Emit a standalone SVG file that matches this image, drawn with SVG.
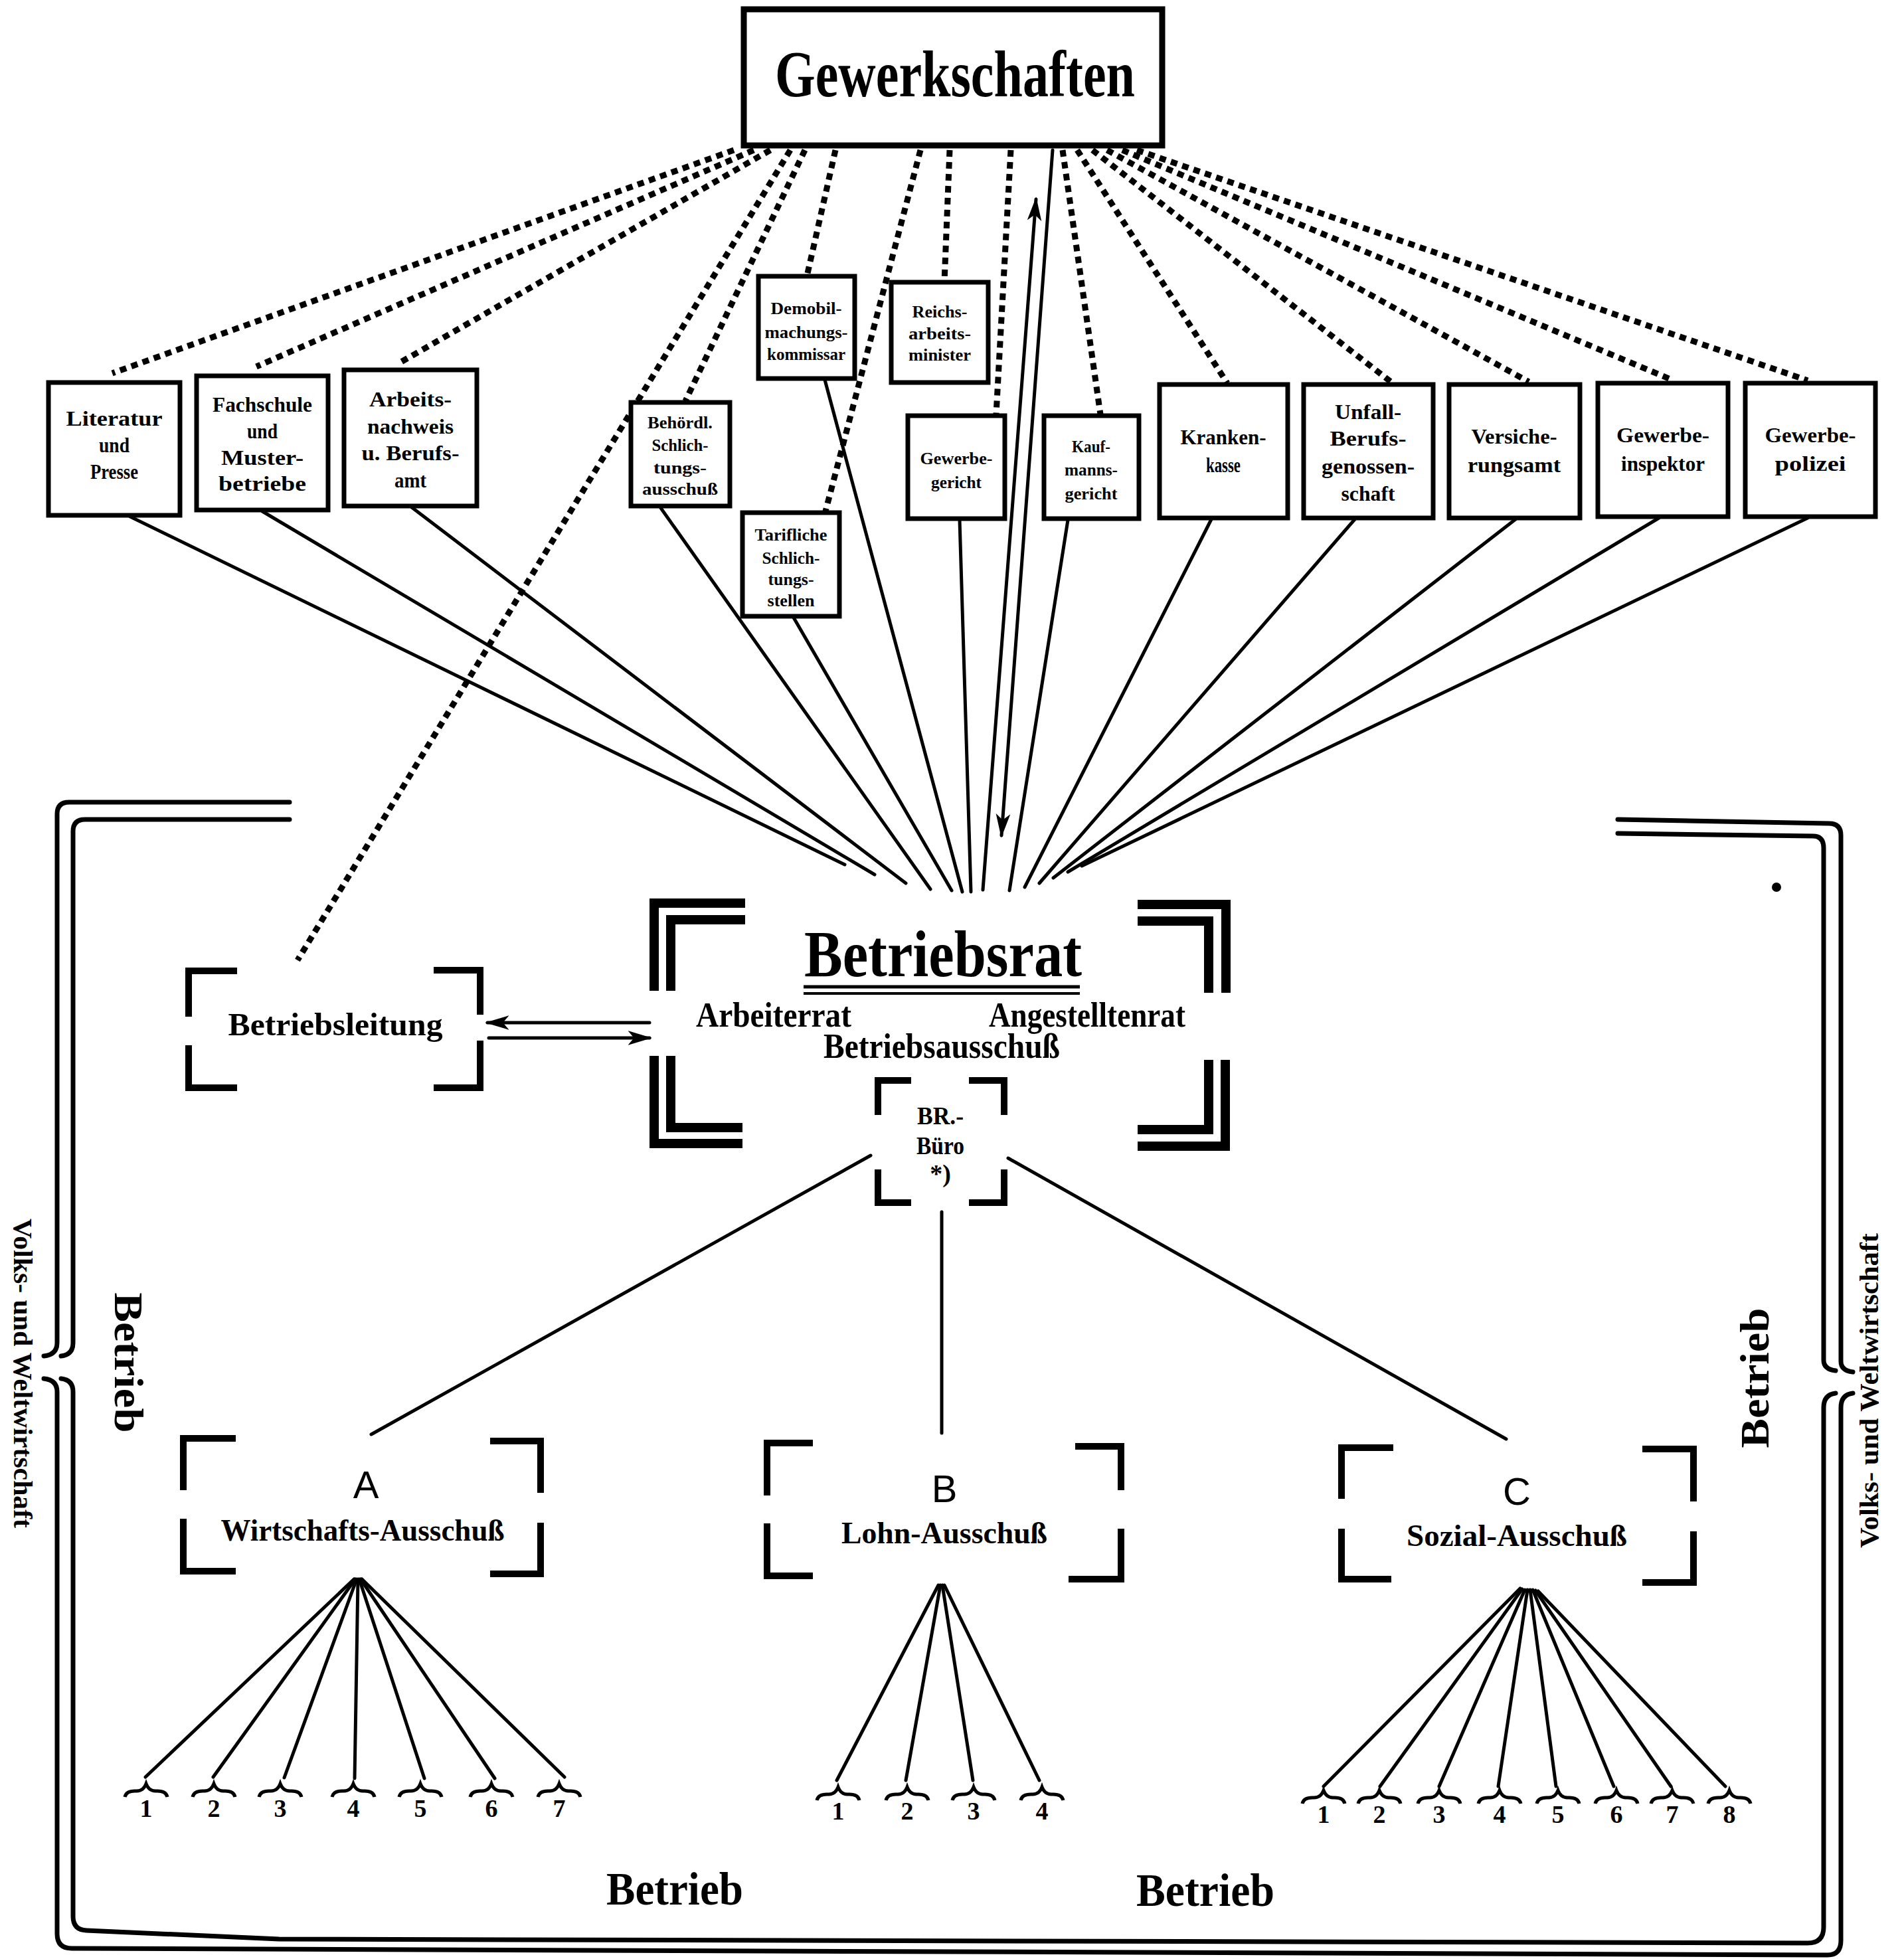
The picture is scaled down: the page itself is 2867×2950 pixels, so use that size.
<svg xmlns="http://www.w3.org/2000/svg" width="2867" height="2950" viewBox="0 0 2867 2950">
<defs>
<style>
.box{fill:#fff;stroke:#000;stroke-width:7}
.fk{font-family:"Liberation Serif","DejaVu Serif",serif;font-weight:bold;fill:#000;text-anchor:middle}
.sans{font-family:"Liberation Sans",Arial,sans-serif;fill:#000;text-anchor:middle}
.dot{stroke:#000;stroke-width:9;stroke-dasharray:10 8;fill:none}
.ln{stroke:#000;stroke-width:5;fill:none;stroke-linecap:round}
.br{stroke:#000;stroke-width:10;fill:none}
.bb{stroke:#000;stroke-width:14;fill:none}
.fr{stroke:#000;stroke-width:7;fill:none;stroke-linecap:round}
.s32{font-size:32px}
.s26{font-size:26px}
.num{font-size:38px}
</style>
<marker id="ah" viewBox="0 0 20 12" refX="18" refY="6" markerWidth="36" markerHeight="22" markerUnits="userSpaceOnUse" orient="auto"><path d="M0,0 L20,6 L0,12 L5,6 z" fill="#000"/></marker>
<path id="brace" d="M-32,12 Q-30,2 -14,3 Q-4,3 0,-8 Q4,3 14,3 Q30,2 32,12" fill="none" stroke="#000" stroke-width="5"/>
</defs>
<rect x="0" y="0" width="2867" height="2950" fill="#fff"/>

<g id="connectors">
<line class="dot" x1="1105" y1="226" x2="169" y2="562"/>
<line class="dot" x1="1135" y1="226" x2="386" y2="552"/>
<line class="dot" x1="1160" y1="226" x2="604" y2="545"/>
<line class="dot" x1="1190" y1="226" x2="448" y2="1446"/>
<line class="dot" x1="1212" y1="226" x2="1032" y2="604"/>
<line class="dot" x1="1258" y1="226" x2="1215" y2="416"/>
<line class="dot" x1="1386" y1="226" x2="1243" y2="770"/>
<line class="dot" x1="1430" y1="226" x2="1422" y2="425"/>
<line class="dot" x1="1522" y1="226" x2="1500" y2="624"/>
<line class="dot" x1="1600" y1="226" x2="1657" y2="624"/>
<line class="dot" x1="1622" y1="226" x2="1848" y2="577"/>
<line class="dot" x1="1645" y1="226" x2="2097" y2="577"/>
<line class="dot" x1="1667" y1="226" x2="2302" y2="575"/>
<line class="dot" x1="1690" y1="226" x2="2520" y2="573"/>
<line class="dot" x1="1712" y1="226" x2="2722" y2="573"/>
<line class="ln" x1="1480" y1="1340" x2="1560" y2="300" marker-end="url(#ah)"/>
<line class="ln" x1="1585" y1="226" x2="1508" y2="1258" marker-end="url(#ah)"/>
<line class="ln" x1="196" y1="778" x2="1272" y2="1302"/>
<line class="ln" x1="395" y1="770" x2="1317" y2="1317"/>
<line class="ln" x1="620" y1="764" x2="1364" y2="1330"/>
<line class="ln" x1="995" y1="765" x2="1401" y2="1339"/>
<line class="ln" x1="1195" y1="930" x2="1433" y2="1341"/>
<line class="ln" x1="1242" y1="572" x2="1449" y2="1343"/>
<line class="ln" x1="1445" y1="783" x2="1462" y2="1343"/>
<line class="ln" x1="1608" y1="783" x2="1520" y2="1341"/>
<line class="ln" x1="1824" y1="782" x2="1543" y2="1336"/>
<line class="ln" x1="2040" y1="782" x2="1565" y2="1330"/>
<line class="ln" x1="2282" y1="782" x2="1586" y2="1322"/>
<line class="ln" x1="2498" y1="780" x2="1608" y2="1313"/>
<line class="ln" x1="2722" y1="780" x2="1629" y2="1304"/>
<line class="ln" x1="978" y1="1540" x2="734" y2="1540" marker-end="url(#ah)"/>
<line class="ln" x1="736" y1="1563" x2="978" y2="1563" marker-end="url(#ah)"/>
<line class="ln" x1="1311" y1="1740" x2="559" y2="2160"/>
<line class="ln" x1="1418" y1="1825" x2="1418" y2="2158"/>
<line class="ln" x1="1518" y1="1744" x2="2268" y2="2167"/>
<line class="ln" x1="533" y1="2378" x2="219" y2="2676"/>
<line class="ln" x1="535" y1="2378" x2="321" y2="2676"/>
<line class="ln" x1="537" y1="2378" x2="428" y2="2677"/>
<line class="ln" x1="539" y1="2378" x2="534" y2="2678"/>
<line class="ln" x1="541" y1="2378" x2="639" y2="2678"/>
<line class="ln" x1="543" y1="2378" x2="745" y2="2678"/>
<line class="ln" x1="545" y1="2378" x2="850" y2="2676"/>
<line class="ln" x1="1413" y1="2387" x2="1260" y2="2681"/>
<line class="ln" x1="1416" y1="2387" x2="1364" y2="2681"/>
<line class="ln" x1="1419" y1="2387" x2="1465" y2="2681"/>
<line class="ln" x1="1422" y1="2387" x2="1565" y2="2681"/>
<line class="ln" x1="2289" y1="2392" x2="1993" y2="2690"/>
<line class="ln" x1="2292" y1="2393" x2="2078" y2="2690"/>
<line class="ln" x1="2296" y1="2394" x2="2167" y2="2690"/>
<line class="ln" x1="2300" y1="2394" x2="2256" y2="2690"/>
<line class="ln" x1="2304" y1="2394" x2="2343" y2="2690"/>
<line class="ln" x1="2308" y1="2394" x2="2430" y2="2690"/>
<line class="ln" x1="2312" y1="2395" x2="2516" y2="2690"/>
<line class="ln" x1="2316" y1="2396" x2="2598" y2="2690"/>
</g>

<g id="frame">
<path class="fr" d="M436,1208 H104 Q86,1208 86,1226 V2022 Q86,2040 66,2042"/>
<path class="fr" d="M436,1234 H128 Q110,1234 110,1252 V2022 Q110,2040 92,2042"/>
<path class="fr" d="M66,2076 Q86,2078 86,2096 V2912 Q86,2934 108,2934 L2752,2944 Q2772,2944 2772,2922 V2120 Q2772,2100 2790,2098"/>
<path class="fr" d="M92,2076 Q110,2078 110,2096 V2886 Q110,2906 130,2907 L420,2920 L2722,2926 Q2746,2926 2746,2902 V2120 Q2746,2100 2764,2098"/>
<path class="fr" d="M2436,1234 L2754,1240 Q2772,1240 2772,1258 V2050 Q2772,2064 2790,2066"/>
<path class="fr" d="M2436,1255 L2730,1259 Q2746,1259 2746,1277 V2048 Q2746,2062 2764,2064"/>
<circle cx="2675" cy="1336" r="7" fill="#000"/>
<text class="fk" font-size="40" transform="translate(35,2068) rotate(90)" y="14" textLength="466" lengthAdjust="spacingAndGlyphs">Volks- und Weltwirtschaft</text>
<text class="fk" font-size="62" transform="translate(193,2052) rotate(90)" y="20" textLength="211" lengthAdjust="spacingAndGlyphs">Betrieb</text>
<text class="fk" font-size="62" transform="translate(2643,2075) rotate(-90)" y="20" textLength="211" lengthAdjust="spacingAndGlyphs">Betrieb</text>
<text class="fk" font-size="40" transform="translate(2814,2094) rotate(-90)" y="14" textLength="474" lengthAdjust="spacingAndGlyphs">Volks- und Weltwirtschaft</text>
<text class="fk" font-size="70" x="1016" y="2868" textLength="206" lengthAdjust="spacingAndGlyphs">Betrieb</text>
<text class="fk" font-size="70" x="1815" y="2870" textLength="208" lengthAdjust="spacingAndGlyphs">Betrieb</text>
</g>

<g id="gewerkschaften">
<rect x="1120" y="14" width="630" height="205" fill="#fff" stroke="#000" stroke-width="9"/>
<text class="fk" font-size="100" x="1438" y="145" textLength="542" lengthAdjust="spacingAndGlyphs">Gewerkschaften</text>
</g>

<g id="literatur">
<rect class="box" x="73" y="576" width="198" height="200"/>
<text class="fk s32" x="172" y="641" textLength="145" lengthAdjust="spacingAndGlyphs">Literatur</text>
<text class="fk s32" x="172" y="681" textLength="46" lengthAdjust="spacingAndGlyphs">und</text>
<text class="fk s32" x="172" y="721" textLength="72" lengthAdjust="spacingAndGlyphs">Presse</text>
</g>
<g id="fachschule">
<rect class="box" x="296" y="566" width="198" height="202"/>
<text class="fk s32" x="395" y="620" textLength="150" lengthAdjust="spacingAndGlyphs">Fachschule</text>
<text class="fk s32" x="395" y="660" textLength="46" lengthAdjust="spacingAndGlyphs">und</text>
<text class="fk s32" x="395" y="700" textLength="124" lengthAdjust="spacingAndGlyphs">Muster-</text>
<text class="fk s32" x="395" y="739" textLength="132" lengthAdjust="spacingAndGlyphs">betriebe</text>
</g>
<g id="arbeitsnachweis">
<rect class="box" x="518" y="557" width="200" height="205"/>
<text class="fk s32" x="618" y="612" textLength="124" lengthAdjust="spacingAndGlyphs">Arbeits-</text>
<text class="fk s32" x="618" y="653" textLength="130" lengthAdjust="spacingAndGlyphs">nachweis</text>
<text class="fk s32" x="618" y="693" textLength="147" lengthAdjust="spacingAndGlyphs">u. Berufs-</text>
<text class="fk s32" x="618" y="734" textLength="48" lengthAdjust="spacingAndGlyphs">amt</text>
</g>
<g id="behoerdl">
<rect class="box" x="950" y="606" width="149" height="156"/>
<text class="fk s26" x="1024" y="645" textLength="98" lengthAdjust="spacingAndGlyphs">Behördl.</text>
<text class="fk s26" x="1024" y="679" textLength="85" lengthAdjust="spacingAndGlyphs">Schlich-</text>
<text class="fk s26" x="1024" y="713" textLength="80" lengthAdjust="spacingAndGlyphs">tungs-</text>
<text class="fk s26" x="1024" y="745" textLength="114" lengthAdjust="spacingAndGlyphs">ausschuß</text>
</g>
<g id="demobil">
<rect class="box" x="1142" y="416" width="145" height="154"/>
<text class="fk s26" x="1214" y="473" textLength="107" lengthAdjust="spacingAndGlyphs">Demobil-</text>
<text class="fk s26" x="1214" y="509" textLength="125" lengthAdjust="spacingAndGlyphs">machungs-</text>
<text class="fk s26" x="1214" y="542" textLength="118" lengthAdjust="spacingAndGlyphs">kommissar</text>
</g>
<g id="reichsarbeitsminister">
<rect class="box" x="1342" y="425" width="146" height="151"/>
<text class="fk s26" x="1415" y="478" textLength="83" lengthAdjust="spacingAndGlyphs">Reichs-</text>
<text class="fk s26" x="1415" y="511" textLength="94" lengthAdjust="spacingAndGlyphs">arbeits-</text>
<text class="fk s26" x="1415" y="543" textLength="94" lengthAdjust="spacingAndGlyphs">minister</text>
</g>
<g id="tarifliche">
<rect class="box" x="1118" y="772" width="146" height="156"/>
<text class="fk s26" x="1191" y="814" textLength="109" lengthAdjust="spacingAndGlyphs">Tarifliche</text>
<text class="fk s26" x="1191" y="849" textLength="87" lengthAdjust="spacingAndGlyphs">Schlich-</text>
<text class="fk s26" x="1191" y="881" textLength="69" lengthAdjust="spacingAndGlyphs">tungs-</text>
<text class="fk s26" x="1191" y="913" textLength="71" lengthAdjust="spacingAndGlyphs">stellen</text>
</g>
<g id="gewerbegericht">
<rect class="box" x="1367" y="626" width="146" height="155"/>
<text class="fk s26" x="1440" y="699" textLength="109" lengthAdjust="spacingAndGlyphs">Gewerbe-</text>
<text class="fk s26" x="1440" y="735" textLength="76" lengthAdjust="spacingAndGlyphs">gericht</text>
</g>
<g id="kaufmannsgericht">
<rect class="box" x="1572" y="626" width="143" height="155"/>
<text class="fk s26" x="1643" y="681" textLength="58" lengthAdjust="spacingAndGlyphs">Kauf-</text>
<text class="fk s26" x="1643" y="716" textLength="80" lengthAdjust="spacingAndGlyphs">manns-</text>
<text class="fk s26" x="1643" y="752" textLength="79" lengthAdjust="spacingAndGlyphs">gericht</text>
</g>
<g id="krankenkasse">
<rect class="box" x="1746" y="579" width="193" height="201"/>
<text class="fk s32" x="1842" y="669" textLength="129" lengthAdjust="spacingAndGlyphs">Kranken-</text>
<text class="fk s32" x="1842" y="711" textLength="52" lengthAdjust="spacingAndGlyphs">kasse</text>
</g>
<g id="unfall">
<rect class="box" x="1963" y="579" width="195" height="201"/>
<text class="fk s32" x="2060" y="631" textLength="100" lengthAdjust="spacingAndGlyphs">Unfall-</text>
<text class="fk s32" x="2060" y="671" textLength="115" lengthAdjust="spacingAndGlyphs">Berufs-</text>
<text class="fk s32" x="2060" y="713" textLength="140" lengthAdjust="spacingAndGlyphs">genossen-</text>
<text class="fk s32" x="2060" y="754" textLength="81" lengthAdjust="spacingAndGlyphs">schaft</text>
</g>
<g id="versicherungsamt">
<rect class="box" x="2182" y="579" width="197" height="201"/>
<text class="fk s32" x="2280" y="668" textLength="129" lengthAdjust="spacingAndGlyphs">Versiche-</text>
<text class="fk s32" x="2280" y="711" textLength="140" lengthAdjust="spacingAndGlyphs">rungsamt</text>
</g>
<g id="gewerbeinspektor">
<rect class="box" x="2406" y="577" width="196" height="201"/>
<text class="fk s32" x="2504" y="666" textLength="140" lengthAdjust="spacingAndGlyphs">Gewerbe-</text>
<text class="fk s32" x="2504" y="709" textLength="126" lengthAdjust="spacingAndGlyphs">inspektor</text>
</g>
<g id="gewerbepolizei">
<rect class="box" x="2628" y="577" width="196" height="201"/>
<text class="fk s32" x="2726" y="666" textLength="137" lengthAdjust="spacingAndGlyphs">Gewerbe-</text>
<text class="fk s32" x="2726" y="709" textLength="107" lengthAdjust="spacingAndGlyphs">polizei</text>
</g>

<g id="betriebsleitung">
<path class="br" d="M284,1531 V1462 H357 M653,1461 H723 V1528 M284,1574 V1638 H357 M653,1638 H723 V1567"/>
<text class="fk" font-size="48" x="505" y="1559" textLength="323" lengthAdjust="spacingAndGlyphs">Betriebsleitung</text>
</g>

<g id="betriebsrat">
<path class="bb" d="M985,1492 V1360 H1122 M1010,1492 V1385 H1122"/>
<path class="bb" d="M1713,1362 H1846 V1495 M1713,1387 H1820 V1495"/>
<path class="bb" d="M985,1590 V1722 H1118 M1010,1590 V1698 H1118"/>
<path class="bb" d="M1713,1726 H1845 V1596 M1713,1701 H1820 V1596"/>
<text class="fk" font-size="100" x="1420" y="1470" textLength="418" lengthAdjust="spacingAndGlyphs">Betriebsrat</text>
<line x1="1210" y1="1486" x2="1626" y2="1486" stroke="#000" stroke-width="5"/>
<line x1="1210" y1="1496" x2="1626" y2="1496" stroke="#000" stroke-width="4"/>
<text class="fk" font-size="52" x="1165" y="1546" textLength="234" lengthAdjust="spacingAndGlyphs">Arbeiterrat</text>
<text class="fk" font-size="52" x="1637" y="1546" textLength="296" lengthAdjust="spacingAndGlyphs">Angestelltenrat</text>
<text class="fk" font-size="52" x="1418" y="1593" textLength="356" lengthAdjust="spacingAndGlyphs">Betriebsausschuß</text>
</g>

<g id="br-buero">
<path class="br" stroke-width="9" d="M1322,1679 V1627 H1372 M1459,1627 H1512 V1679 M1322,1761 V1811 H1372 M1459,1811 H1512 V1761"/>
<text class="fk" font-size="38" x="1416" y="1693" textLength="70" lengthAdjust="spacingAndGlyphs">BR.-</text>
<text class="fk" font-size="38" x="1416" y="1738" textLength="72" lengthAdjust="spacingAndGlyphs">Büro</text>
<text class="fk" font-size="38" x="1416" y="1780">*)</text>
</g>

<g id="ausschuss-a">
<path class="br" d="M276,2244 V2166 H355 M738,2170 H814 V2248 M276,2287 V2366 H355 M738,2370 H814 V2293"/>
<text class="sans" font-size="58" x="551" y="2256">A</text>
<text class="fk" font-size="46" x="546" y="2320" textLength="427" lengthAdjust="spacingAndGlyphs">Wirtschafts-Ausschuß</text>
</g>
<g id="ausschuss-b">
<path class="br" d="M1155,2252 V2173 H1224 M1619,2178 H1688 V2244 M1155,2294 V2373 H1224 M1609,2378 H1688 V2302"/>
<text class="sans" font-size="58" x="1422" y="2262">B</text>
<text class="fk" font-size="46" x="1422" y="2324" textLength="310" lengthAdjust="spacingAndGlyphs">Lohn-Ausschuß</text>
</g>
<g id="ausschuss-c">
<path class="br" d="M2020,2257 V2180 H2098 M2473,2182 H2550 V2261 M2020,2302 V2378 H2095 M2473,2383 H2550 V2306"/>
<text class="sans" font-size="58" x="2284" y="2266">C</text>
<text class="fk" font-size="46" x="2284" y="2328" textLength="332" lengthAdjust="spacingAndGlyphs">Sozial-Ausschuß</text>
</g>

<g id="a-units">
<use href="#brace" x="220" y="2694"/><use href="#brace" x="322" y="2694"/><use href="#brace" x="422" y="2694"/><use href="#brace" x="532" y="2694"/><use href="#brace" x="633" y="2694"/><use href="#brace" x="740" y="2694"/><use href="#brace" x="842" y="2694"/>
<text class="fk num" x="220" y="2736">1</text><text class="fk num" x="322" y="2736">2</text><text class="fk num" x="422" y="2736">3</text><text class="fk num" x="532" y="2736">4</text><text class="fk num" x="633" y="2736">5</text><text class="fk num" x="740" y="2736">6</text><text class="fk num" x="842" y="2736">7</text>
</g>
<g id="b-units">
<use href="#brace" x="1262" y="2699"/><use href="#brace" x="1366" y="2699"/><use href="#brace" x="1466" y="2699"/><use href="#brace" x="1569" y="2699"/>
<text class="fk num" x="1262" y="2740">1</text><text class="fk num" x="1366" y="2740">2</text><text class="fk num" x="1466" y="2740">3</text><text class="fk num" x="1569" y="2740">4</text>
</g>
<g id="c-units">
<use href="#brace" x="1993" y="2704"/><use href="#brace" x="2077" y="2704"/><use href="#brace" x="2167" y="2704"/><use href="#brace" x="2258" y="2704"/><use href="#brace" x="2346" y="2704"/><use href="#brace" x="2434" y="2704"/><use href="#brace" x="2518" y="2704"/><use href="#brace" x="2604" y="2704"/>
<text class="fk num" x="1993" y="2745">1</text><text class="fk num" x="2077" y="2745">2</text><text class="fk num" x="2167" y="2745">3</text><text class="fk num" x="2258" y="2745">4</text><text class="fk num" x="2346" y="2745">5</text><text class="fk num" x="2434" y="2745">6</text><text class="fk num" x="2518" y="2745">7</text><text class="fk num" x="2604" y="2745">8</text>
</g>
</svg>
